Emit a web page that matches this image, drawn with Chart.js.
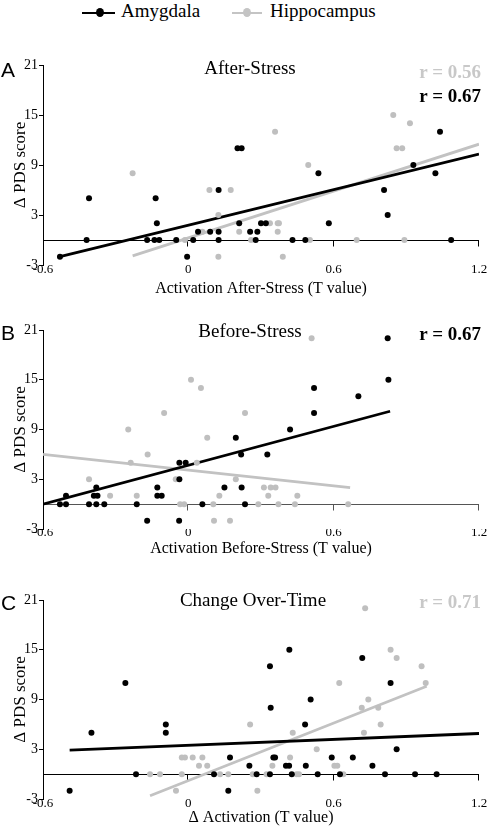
<!DOCTYPE html>
<html><head><meta charset="utf-8">
<script src="https://cdn.jsdelivr.net/npm/chart.js@4.4.1/dist/chart.umd.min.js"></script>
<style>
html,body{margin:0;padding:0;background:#fff;}
body{width:488px;height:828px;position:relative;overflow:hidden;font-family:"Liberation Serif","Times New Roman",serif;color:#000;}
canvas{position:absolute;left:0;}
.t{position:absolute;white-space:nowrap;line-height:1;}
.ttl{font-size:19px;transform:translateX(-50%);}
.r{font-size:19px;font-weight:bold;right:7px;}
.lt{font-family:"Liberation Sans",Arial,sans-serif;font-size:21px;left:1px;}
.lg{font-size:19px;top:1px;}
.ll{position:absolute;height:2px;top:12px;}
.ld{position:absolute;width:8px;height:9px;border-radius:50%;top:8px;}
</style></head><body>

<div class="ll" style="left:82px;width:33px;background:#000"></div>
<div class="ld" style="left:96px;background:#000"></div>
<div class="t lg" style="left:121px">Amygdala</div>
<div class="ll" style="left:232px;width:30px;background:#c4c4c4"></div>
<div class="ld" style="left:243px;background:#c4c4c4"></div>
<div class="t lg" style="left:270px">Hippocampus</div>

<canvas id="cA" width="488" height="258" style="top:40px"></canvas>
<canvas id="cB" width="488" height="253" style="top:305px"></canvas>
<canvas id="cC" width="488" height="252" style="top:575px"></canvas>

<div class="t lt" style="top:59px">A</div>
<div class="t ttl" style="left:250px;top:58px">After-Stress</div>
<div class="t r" style="top:62px;color:#c8c8c8">r = 0.56</div>
<div class="t r" style="top:86px">r = 0.67</div>

<div class="t lt" style="top:322px">B</div>
<div class="t ttl" style="left:250px;top:321px">Before-Stress</div>
<div class="t r" style="top:324px">r = 0.67</div>

<div class="t lt" style="top:592px">C</div>
<div class="t ttl" style="left:253px;top:590px">Change Over-Time</div>
<div class="t r" style="top:592px;color:#c8c8c8">r = 0.71</div>

<script>
// ---- axis ticks ----
const X_TICKS = [-0.6, 0, 0.6, 1.2];
const Y_TICKS = [-3, 3, 9, 15, 21];

// ---- Panel A: After-Stress ----
const afterAmygdala = [[-0.53,-2],[-0.42,0],[-0.41,5],[-0.17,0],[-0.135,5],[-0.13,2],[-0.14,0],[-0.12,0],[-0.05,0],[-0.005,-2],[0.02,0],[0.04,1],[0.09,1],[0.125,6],[0.125,1],[0.125,0],[0.203,11],[0.22,11],[0.21,2],[0.255,1],[0.285,1],[0.30,2],[0.32,2],[0.278,0],[0.43,0],[0.483,0],[0.537,8],[0.58,2],[0.808,6],[0.823,3],[0.929,9],[1.02,8],[1.039,13],[1.085,0]];
const afterHippocampus = [[-0.23,8],[0.087,6],[0.175,6],[0.124,3],[0.124,-2],[0.058,1],[0.21,1],[-0.014,0],[0.259,0],[0.337,2],[0.369,2],[0.374,2],[0.369,1],[0.358,13],[0.39,-2],[0.495,9],[0.502,0],[0.695,0],[0.846,15],[0.86,11],[0.883,11],[0.915,14],[0.892,0]];
const afterAmygdalaFit = [[-0.53,-2],[1.2,10.3]];
const afterHippocampusFit = [[-0.23,-1.9],[1.2,11.5]];

// ---- Panel B: Before-Stress ----
const beforeAmygdala = [[-0.53,0],[-0.505,0],[-0.505,1],[-0.41,0],[-0.38,0],[-0.39,1],[-0.375,1],[-0.38,2],[-0.347,0],[-0.213,0],[-0.17,-2],[-0.128,2],[-0.128,1],[-0.11,1],[-0.038,-2],[-0.037,3],[-0.037,5],[-0.011,5],[0.058,0],[0.149,2],[0.196,8],[0.218,6],[0.22,2],[0.234,0],[0.326,6],[0.42,9],[0.519,11],[0.519,14],[0.702,13],[0.823,20],[0.826,15]];
const beforeHippocampus = [[-0.41,3],[-0.323,1],[-0.248,9],[-0.238,5],[-0.213,1],[-0.168,6],[-0.1,11],[-0.052,3],[-0.034,0],[-0.017,0],[0.011,15],[0.035,5],[0.052,14],[0.078,8],[0.103,0],[0.106,-2],[0.128,1],[0.172,-2],[0.196,3],[0.234,11],[0.509,20],[0.312,2],[0.34,2],[0.36,2],[0.33,1],[0.289,0],[0.372,0],[0.44,0],[0.45,1],[0.66,0]];
const beforeAmygdalaFit = [[-0.6,0],[0.833,11.2]];
const beforeHippocampusFit = [[-0.6,6],[0.668,2]];

// ---- Panel C: Change Over-Time ----
const changeAmygdala = [[-0.49,-2],[-0.4,5],[-0.26,11],[-0.216,0],[-0.093,6],[-0.093,5],[0.106,0],[0.172,2],[0.165,-2],[0.252,1],[0.282,0],[0.337,13],[0.34,8],[0.337,0],[0.351,2],[0.358,2],[0.403,1],[0.416,1],[0.417,15],[0.427,0],[0.482,6],[0.485,1],[0.505,9],[0.534,0],[0.592,2],[0.626,0],[0.679,2],[0.718,14],[0.76,1],[0.812,0],[0.835,11],[0.86,3],[0.936,0],[1.025,0]];
const changeHippocampus = [[-0.158,0],[-0.117,0],[-0.051,-2],[-0.027,2],[-0.014,2],[-0.027,0],[0.018,2],[0.058,2],[0.044,1],[0.078,1],[0.131,0],[0.165,0],[0.255,6],[0.266,0],[0.285,-2],[0.323,0],[0.347,1],[0.42,2],[0.431,5],[0.447,0],[0.457,0],[0.53,3],[0.603,1],[0.615,1],[0.623,11],[0.64,0],[0.716,8],[0.743,9],[0.725,5],[0.73,20],[0.784,8],[0.794,6],[0.835,15],[0.86,14],[0.963,13],[0.98,11]];
const changeAmygdalaFit = [[-0.49,2.9],[1.2,4.9]];
const changeHippocampusFit = [[-0.158,-2.6],[0.984,10.6]];

const BLACK = '#000000';
const GRAY = '#bfbfbf';
const SERIF = '"Liberation Serif","Times New Roman",serif';
const toXY = a => a.map(([x, y]) => ({x, y}));

Chart.defaults.font.family = SERIF;
Chart.defaults.color = '#000';

const zeroLine = {
  id: 'zeroLine',
  beforeDatasetsDraw(chart, args, opts) {
    const {ctx, chartArea, scales: {x, y}} = chart;
    const y0 = Math.round(y.getPixelForValue(0)) + 0.5;
    ctx.save();
    ctx.strokeStyle = opts.color || '#000';
    ctx.lineWidth = 1;
    ctx.beginPath();
    ctx.moveTo(chartArea.left, y0);
    ctx.lineTo(chartArea.right, y0);
    X_TICKS.slice(1).forEach(v => {
      const px = Math.round(x.getPixelForValue(v)) - 0.5;
      ctx.moveTo(px, y0);
      ctx.lineTo(px, y0 + 6);
    });
    ctx.stroke();
    ctx.restore();
  }
};

function makeChart(id, amyg, hipp, amygFit, hippFit, xTitle, zeroColor, labelPad, xAxisH) {
  new Chart(document.getElementById(id), {
    type: 'scatter',
    data: {
      datasets: [
        {data: toXY(amyg), backgroundColor: BLACK, borderColor: BLACK, pointRadius: 3, pointBorderWidth: 0},
        {data: toXY(hipp), backgroundColor: GRAY, borderColor: GRAY, pointRadius: 3, pointBorderWidth: 0},
        {type: 'line', data: toXY(amygFit), borderColor: BLACK, borderWidth: 2.8, pointRadius: 0, fill: false},
        {type: 'line', data: toXY(hippFit), borderColor: '#c2c2c2', borderWidth: 2.8, pointRadius: 0, fill: false}
      ]
    },
    options: {
      responsive: false,
      animation: false,
      events: [],
      layout: {padding: {top: 25, left: 0, right: 9, bottom: 0}},
      plugins: {legend: {display: false}, tooltip: {enabled: false}, zeroLine: {color: zeroColor}},
      scales: {
        x: {
          type: 'linear', min: -0.6, max: 1.2,
          afterBuildTicks: s => { s.ticks = X_TICKS.map(v => ({value: v})); },
          afterFit: s => { s.height = xAxisH; s.paddingLeft = 0; s.paddingRight = 0; },
          grid: {display: false, drawTicks: false},
          border: {display: false},
          ticks: {font: {size: 13, family: SERIF}, color: '#000', padding: labelPad, maxRotation: 0, autoSkip: false,
                  callback: v => String(v)},
          title: {display: true, text: xTitle, font: {size: 16, family: SERIF}, padding: {top: 0, bottom: 0}, color: '#000'}
        },
        y: {
          type: 'linear', min: -3, max: 21,
          afterBuildTicks: s => { s.ticks = Y_TICKS.map(v => ({value: v})); },
          afterFit: s => { s.width = 43; s.paddingTop = 0; s.paddingBottom = 0; },
          grid: {display: true, drawOnChartArea: false, drawTicks: true, tickLength: 4, color: '#000'},
          border: {display: true, color: '#000', width: 1},
          ticks: {font: {size: 14, family: SERIF}, color: '#000', padding: 1, callback: v => String(v)},
          title: {display: true, text: 'Δ PDS score', font: {size: 17, family: SERIF}, padding: {top: 10, bottom: 0}, color: '#000'}
        }
      }
    },
    plugins: [zeroLine]
  });
}

makeChart('cA', afterAmygdala, afterHippocampus, afterAmygdalaFit, afterHippocampusFit, 'Activation After-Stress (T value)', '#000', -3, 33);
makeChart('cB', beforeAmygdala, beforeHippocampus, beforeAmygdalaFit, beforeHippocampusFit, 'Activation Before-Stress (T value)', '#555', -4, 29);
makeChart('cC', changeAmygdala, changeHippocampus, changeAmygdalaFit, changeHippocampusFit, 'Δ Activation (T value)', '#000', -3, 28);
</script>
</body></html>
